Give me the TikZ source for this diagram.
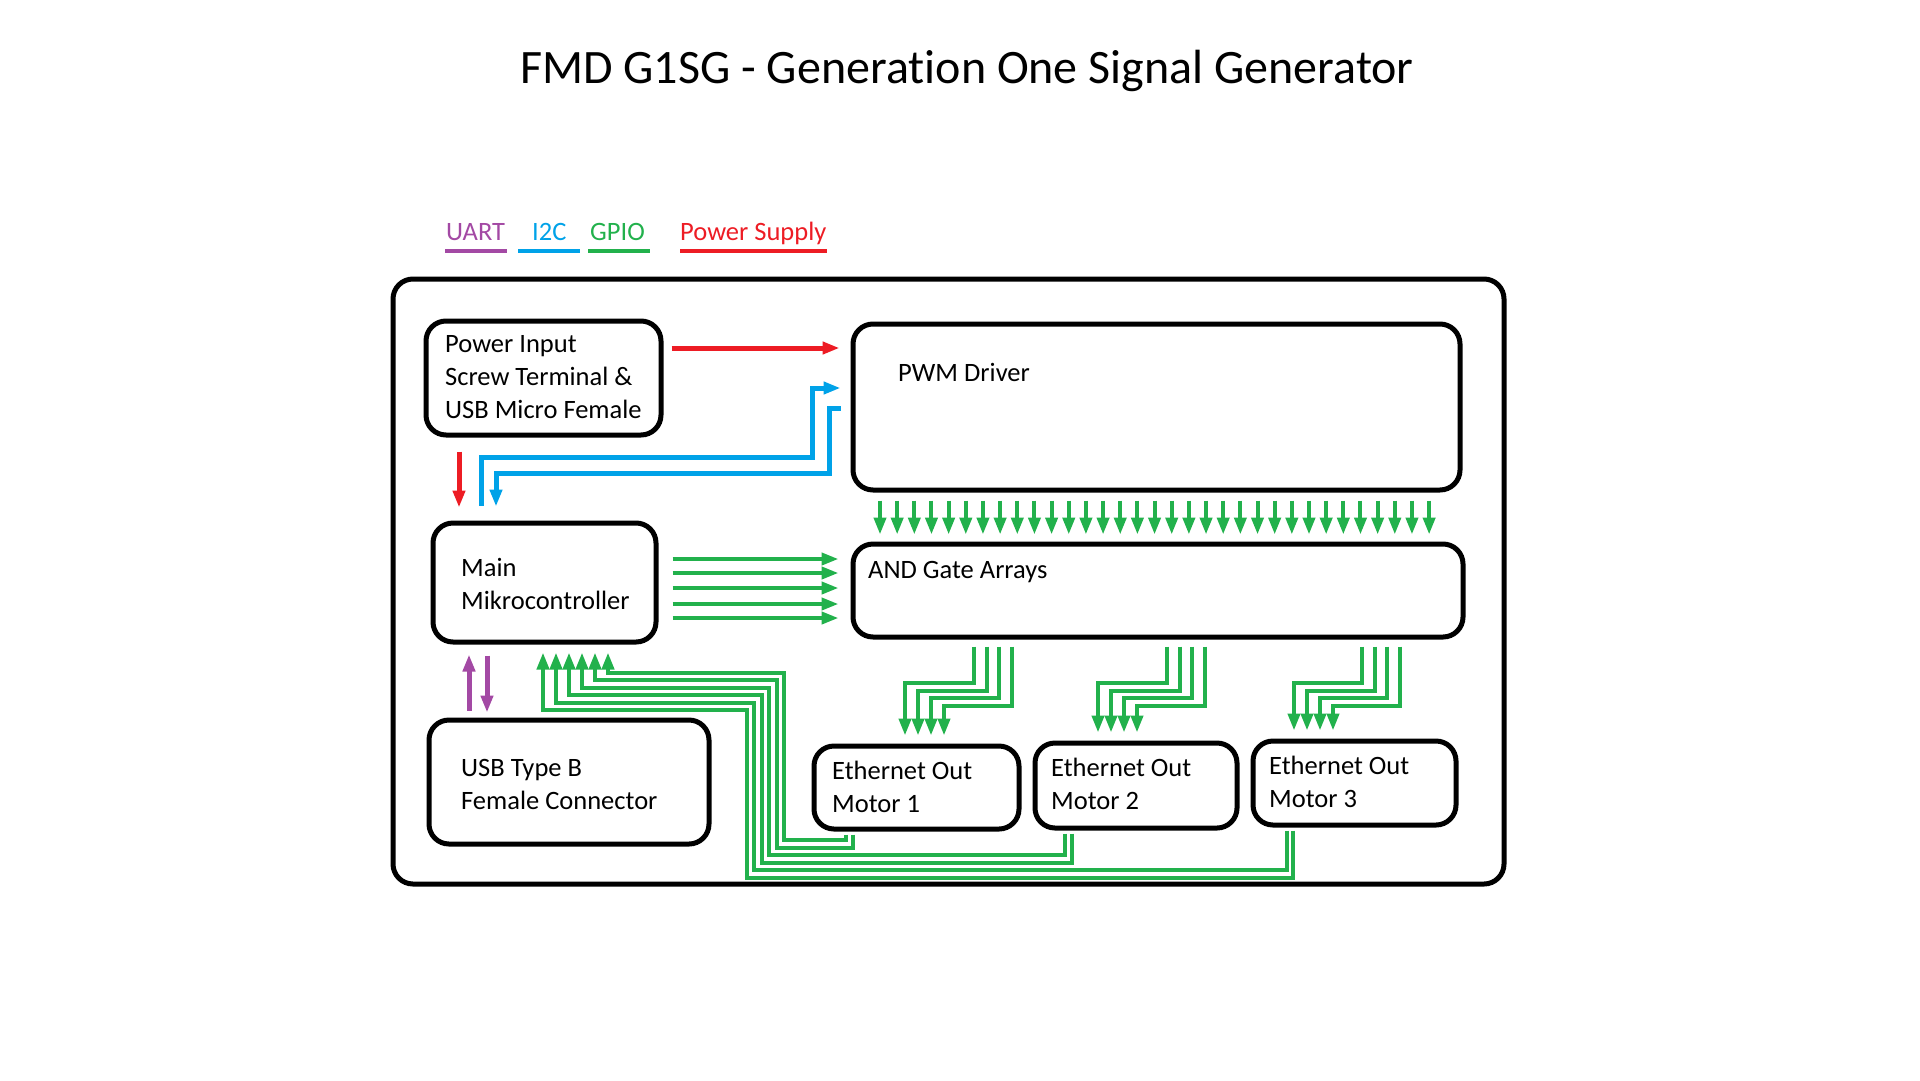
\documentclass[tikz,border=0pt]{standalone}
\usepackage{fontspec}
\setmainfont{Carlito}[Ligatures=NoCommon]
\usetikzlibrary{arrows.meta, calc}
\definecolor{uartpurple}{RGB}{163,73,164}
\definecolor{i2cblue}{RGB}{0,162,232}
\definecolor{gpiogreen}{RGB}{34,177,76}
\definecolor{powerred}{RGB}{237,28,36}

\begin{document}
\begin{tikzpicture}[x=1pt, y=-1pt,
  block/.style={draw, line width=5pt, rounded corners=20pt, inner sep=0pt},
  txt/.style={anchor=base west, align=left, inner sep=0pt, font=\fontsize{26.5}{33}\selectfont},
  tip/.style={-{Triangle[length=17pt, width=12pt]}},
  pwrarrow/.style={tip, powerred, line width=5pt},
  i2carrow/.style={tip, i2cblue, line width=5pt},
  uartarrow/.style={tip, uartpurple, line width=5pt},
  gpioarrow/.style={tip, gpiogreen, line width=4pt}]
\useasboundingbox (0,0) rectangle (1920,1080);

% Title
\node[anchor=base, inner sep=0pt, font=\fontsize{48}{56}\selectfont] (title) at (967,83) {FMD G1SG - Generation One Signal Generator};

% Legend
\node[txt, text=uartpurple] (lguart) at (446,240) {UART};
\node[txt, text=i2cblue] (lgi2c) at (532,240) {I2C};
\node[txt, text=gpiogreen] (lggpio) at (590,240) {GPIO};
\node[txt, text=powerred] (lgpower) at (680,240) {Power Supply};
\draw[uartpurple, line width=4pt] (445,251) -- (507,251);
\draw[i2cblue, line width=4pt] (518,251) -- (580,251);
\draw[gpiogreen, line width=4pt] (588,251) -- (650,251);
\draw[powerred, line width=4pt] (680,251) -- (827,251);

% Board outline
\node[block, minimum width=1111pt, minimum height=605pt] (board) at (948.5,581.5) {};

% Blocks
\node[block, minimum width=235pt, minimum height=114pt] (pwr) at (543.5,378) {};
\node[block, minimum width=607pt, minimum height=166pt] (pwm) at (1156.5,407) {};
\node[block, minimum width=223pt, minimum height=119pt] (mcu) at (544.5,582.5) {};
\node[block, minimum width=610pt, minimum height=93pt] (andg) at (1158,590.5) {};
\node[block, minimum width=280pt, minimum height=124pt] (usb) at (569,782) {};
\node[block, minimum width=205pt, minimum height=83pt] (eth1) at (916.5,787.5) {};
\node[block, minimum width=202pt, minimum height=85pt] (eth2) at (1136,785.5) {};
\node[block, minimum width=203pt, minimum height=84pt] (eth3) at (1354.5,783) {};

% Block texts (anchored on the last line)
\node[txt] (pwrtxt) at (445,418) {Power Input\\Screw Terminal \&\\USB Micro Female};
\node[txt] (pwmtxt) at (898,381) {PWM Driver};
\node[txt] (mcutxt) at (461,609) {Main\\Mikrocontroller};
\node[txt] (andtxt) at (868,578) {AND Gate Arrays};
\node[txt] (usbtxt) at (461,809) {USB Type B\\Female Connector};
\node[txt] (eth1txt) at (832,812) {Ethernet Out\\Motor 1};
\node[txt] (eth2txt) at (1051,809) {Ethernet Out\\Motor 2};
\node[txt] (eth3txt) at (1269,807) {Ethernet Out\\Motor 3};

% Power
\draw[pwrarrow, shorten <=8pt, shorten >=11pt] (pwr.east |- 0,348) -- (pwm.west |- 0,348);
\draw[pwrarrow, shorten <=14pt, shorten >=13pt] (pwr.south -| 459,0) -- (mcu.north -| 459,0);

% I2C
\draw[i2carrow, shorten <=15pt, shorten >=10pt] (mcu.north -| 481,0) |- (812,457) |- (pwm.west |- 0,388);
\draw[i2carrow, shorten <=10pt, shorten >=14pt] (pwm.west |- 0,408) -| (829,473) -| (mcu.north -| 496,0);

% UART
\draw[uartarrow, shorten <=7pt, shorten >=10pt] (usb.north -| 469,0) -- (mcu.south -| 469,0);
\draw[uartarrow, shorten <=11pt, shorten >=5pt] (mcu.south -| 487,0) -- (usb.north -| 487,0);

% GPIO: controller to gates
\foreach \y in {559,573,588,604,618}
  \draw[gpioarrow, shorten <=14pt, shorten >=12pt] (mcu.east |- 0,\y) -- (andg.west |- 0,\y);

% GPIO: PWM channels to gates
\foreach \i [evaluate=\i as \x using 880+17.16*\i] in {0,...,32}
  \draw[gpioarrow, shorten <=8pt, shorten >=7pt] (pwm.south -| \x,0) -- (andg.north -| \x,0);

% GPIO: gates to motor outputs
\foreach \eth/\xt/\xa in {eth1/974/905, eth2/1167/1098, eth3/1362/1294}
  \foreach \j in {0,...,3} {
    \pgfmathsetmacro\xtop{\xt+12.7*\j}
    \pgfmathsetmacro\xbot{\xa+13*\j}
    \pgfmathsetmacro\ylev{683+7.7*\j}
    \draw[gpioarrow, shorten <=7pt, shorten >=8pt]
      (andg.south -| \xtop,0) -- (\xtop,\ylev) -- (\xbot,\ylev) -- (\eth.north -| \xbot,0);
  }

% GPIO: motor feedback to controller
\foreach \i/\eth/\xs [evaluate=\i as \xa using 543+13*\i,
                      evaluate=\i as \yh using 710-7.4*\i,
                      evaluate=\i as \xv using 747+7.4*\i,
                      evaluate=\i as \yb using 878-7.6*\i]
    in {0/eth3/1293, 1/eth3/1287, 2/eth2/1072, 3/eth2/1065, 4/eth1/853, 5/eth1/846}
  \draw[gpioarrow, shorten <=3pt, shorten >=8pt]
    (\eth.south -| \xs,0) -- (\xs,\yb) -| (\xv,\yh) -| (mcu.south -| \xa,0);
\end{tikzpicture}
\end{document}
